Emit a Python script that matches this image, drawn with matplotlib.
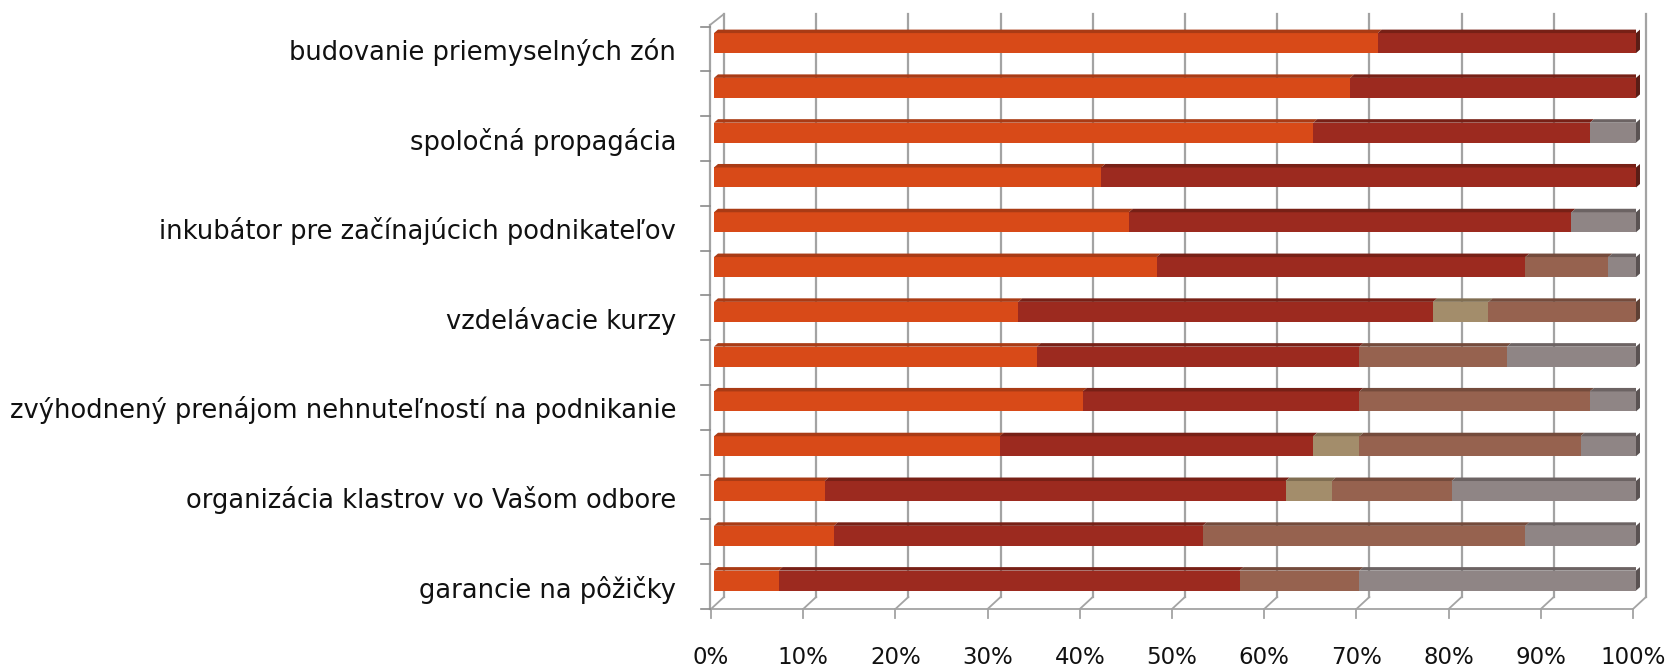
import matplotlib
matplotlib.use("Agg")
import matplotlib.pyplot as plt
from matplotlib.patches import Polygon
import numpy as np

# ---- data (rows listed top to bottom) ----
categories = [
    "budovanie priemyselných zón", "",
    "spoločná propagácia", "",
    "inkubátor pre začínajúcich podnikateľov", "",
    "vzdelávacie kurzy", "",
    "zvýhodnený prenájom nehnuteľností na podnikanie", "",
    "organizácia klastrov vo Vašom odbore", "",
    "garancie na pôžičky",
]
series1 = [72, 69, 65, 42, 45, 48, 33, 35, 40, 31, 12, 13, 7]
series2 = [28, 31, 30, 58, 48, 40, 45, 35, 30, 34, 50, 40, 50]
series3 = [0, 0, 0, 0, 0, 0, 6, 0, 0, 5, 5, 0, 0]
series4 = [0, 0, 0, 0, 0, 9, 16, 16, 25, 24, 13, 35, 13]
series5 = [0, 0, 5, 0, 7, 3, 0, 14, 5, 6, 20, 12, 30]
xtick_values = [0, 10, 20, 30, 40, 50, 60, 70, 80, 90, 100]
xtick_labels = [f"{v}%" for v in xtick_values]

colors = ["#D84A18", "#9C2A1F", "#A38D6B", "#96624F", "#8F8585"]
top_colors = ["#A93B15", "#772016", "#806E52", "#744B3C", "#6C6363"]
side_colors = ["#7a2a10", "#5a1d16", "#6b5c45", "#5e4034", "#5a5252"]

W, H = 1671, 671
fig = plt.figure(figsize=(W / 100, H / 100), dpi=100)
x0_px, x1_px = 711, 1636
ytop_px, ybot_px = 26.7, 609
ax = fig.add_axes([x0_px / W, (H - ybot_px) / H, (x1_px - x0_px) / W, (ybot_px - ytop_px) / H])
n = len(categories)
ax.set_xlim(0, 100)
ax.set_ylim(-0.5, n - 0.5)
for s in ax.spines.values():
    s.set_visible(False)

pxx = 100 / (x1_px - x0_px)          # data units per pixel (x)
pxy = n / (ybot_px - ytop_px)        # data units per pixel (y)

grid_c = "#A3A3A3"
back_dx = 10 * pxx
front_dx = -3 * pxx
floor_back_y = -0.5 + 12 * pxy
top_y = -0.5 + (ybot_px - 14) * pxy
tick_bot = -0.5 - 9 * pxy

# back wall gridlines + floor diagonals + front ticks
for v in xtick_values:
    ax.plot([v + back_dx, v + back_dx], [floor_back_y, top_y], color=grid_c, lw=1.6, zorder=0, clip_on=False)
    ax.plot([v + back_dx, v + front_dx], [floor_back_y, -0.5], color=grid_c, lw=1.3, zorder=0, clip_on=False)
    ax.plot([v + front_dx, v + front_dx], [-0.5, tick_bot], color=grid_c, lw=1.3, zorder=0, clip_on=False)
# floor front edge
ax.plot([front_dx, 100 + front_dx], [-0.5, -0.5], color=grid_c, lw=1.3, zorder=0, clip_on=False)
# left wall
lw_x = -4 * pxx
wall_top = -0.5 + (ybot_px - 25) * pxy
ax.plot([lw_x, lw_x], [-0.5, wall_top], color=grid_c, lw=1.6, zorder=0, clip_on=False)
ax.plot([lw_x, back_dx], [wall_top, top_y], color=grid_c, lw=1.3, zorder=0, clip_on=False)
for k in range(n + 1):
    yk = k - 0.5
    ax.plot([lw_x - 9 * pxx, lw_x], [yk, yk], color="#8a8a8a", lw=1.2, zorder=0, clip_on=False)

# bars
data = np.array([series1, series2, series3, series4, series5], dtype=float)
data = data / data.sum(axis=0) * 100
ypos = np.arange(n)[::-1] + 6 * pxy
bh = 20 * pxy
ddx, ddy = 4 * pxx, 3.5 * pxy
left = np.zeros(n)
for si in range(data.shape[0]):
    vals = data[si]
    ax.barh(ypos, vals, left=left, height=bh, color=colors[si], edgecolor="none", zorder=2)
    for i in range(n):
        if vals[i] <= 0:
            continue
        l, r = left[i], left[i] + vals[i]
        t = ypos[i] + bh / 2
        ax.add_patch(Polygon([[l, t], [r, t], [r + ddx, t + ddy], [l + ddx, t + ddy]],
                             closed=True, facecolor=top_colors[si], edgecolor="none", zorder=2))
    left = left + vals
# right side faces
for i in range(n):
    last = max(si for si in range(data.shape[0]) if data[si, i] > 0)
    t = ypos[i] + bh / 2
    b = ypos[i] - bh / 2
    ax.add_patch(Polygon([[100, b], [100, t], [100 + ddx, t + ddy], [100 + ddx, b + ddy]],
                         closed=True, facecolor=side_colors[last], edgecolor="none", zorder=2, clip_on=False))

# ticks and labels
ax.set_yticks(np.arange(n)[::-1])
ax.set_yticklabels(categories, fontsize=18.5, color="#111111")
ax.tick_params(axis="y", length=0, pad=25)
ax.set_xticks([v + front_dx for v in xtick_values])
ax.set_xticklabels(xtick_labels, fontsize=16.5, color="#111111")
ax.tick_params(axis="x", length=0, pad=27)

fig.savefig("out.png", dpi=100)
